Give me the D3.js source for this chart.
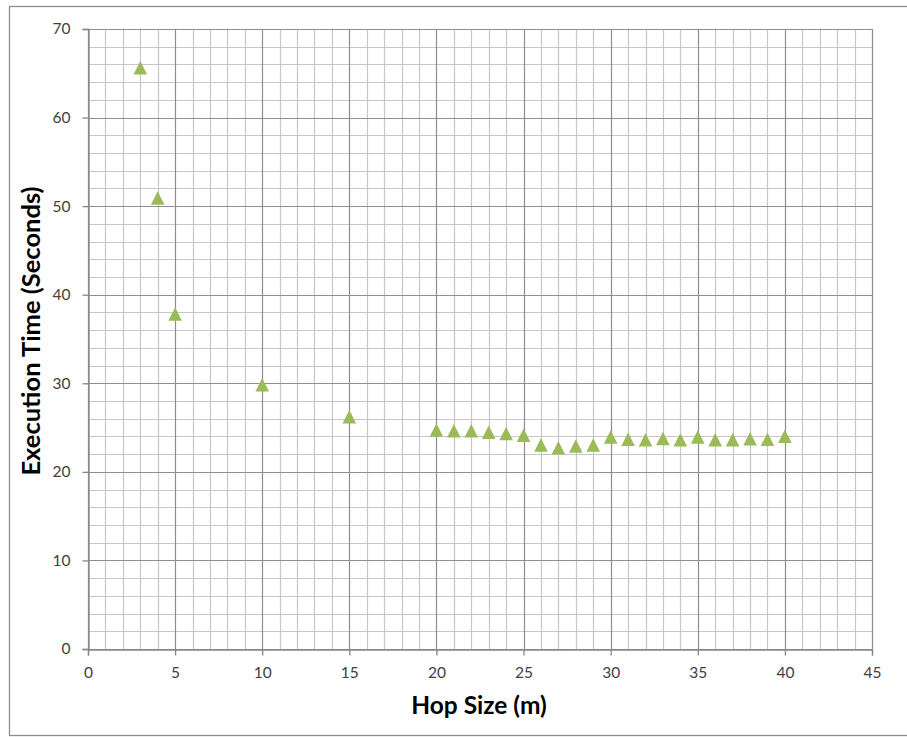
<!DOCTYPE html>
<html lang="en">
<head>
  <meta charset="UTF-8">
  <title>Execution Time vs Hop Size</title>
  <style>
    body {
      margin: 0;
      padding: 0;
      background: #fff;
    }
    .tick-label {
      font-family: Lato, "Open Sans", sans-serif;
      font-size: 15.5px;
      fill: #404040;
    }
    .axis-title {
      font-family: Lato, "Open Sans", sans-serif;
      font-weight: bold;
      fill: #000;
    }
  </style>
</head>
<body>
  <script src="https://d3js.org/d3.v7.min.js"></script>
  <script>
    // Hop size (m) and measured execution time (s)
    const hopSizes = [3, 4, 5, 10, 15, 20, 21, 22, 23, 24, 25, 26, 27, 28, 29, 30,
                      31, 32, 33, 34, 35, 36, 37, 38, 39, 40];
    const execTimes = [65.6, 50.9, 37.8, 29.8, 26.2, 24.7, 24.6, 24.6, 24.45, 24.3, 24.1, 23.0, 22.7, 22.9, 23.0, 23.9,
                       23.65, 23.6, 23.75, 23.6, 23.9, 23.6, 23.6, 23.7, 23.65, 24.0];
    const xTicks = [0, 5, 10, 15, 20, 25, 30, 35, 40, 45];
    const yTicks = [0, 10, 20, 30, 40, 50, 60, 70];

    const width = 907;
    const height = 737;
    const margin = { left: 88, right: 35, top: 29, bottom: 88 };

    const svg = d3.select('body')
      .append('svg')
      .attr('width', width)
      .attr('height', height);

    // outer chart frame
    svg.append('rect')
      .attr('x', 9.5)
      .attr('y', 6.5)
      .attr('width', width + 10)
      .attr('height', height - 8)
      .attr('fill', 'none')
      .attr('stroke', '#8c8c8c')
      .attr('stroke-width', 1.3);

    const x = d3.scaleLinear()
      .domain([0, 45])
      .range([margin.left, width - margin.right]);

    const y = d3.scaleLinear()
      .domain([0, 70])
      .range([height - margin.bottom, margin.top]);

    const grid = svg.append('g');

    // minor grid
    grid.selectAll('.vminor')
      .data(d3.range(1, 45).filter(v => v % 5 !== 0))
      .enter().append('line')
        .attr('x1', d => Math.round(x(d)) + 0.5)
        .attr('x2', d => Math.round(x(d)) + 0.5)
        .attr('y1', y(0))
        .attr('y2', y(70))
        .attr('stroke', '#c6c6c6')
        .attr('stroke-width', 1.2);

    grid.selectAll('.hminor')
      .data(d3.range(2, 70, 2).filter(v => v % 10 !== 0))
      .enter().append('line')
        .attr('y1', d => Math.round(y(d)) + 0.5)
        .attr('y2', d => Math.round(y(d)) + 0.5)
        .attr('x1', x(0))
        .attr('x2', x(45))
        .attr('stroke', '#c6c6c6')
        .attr('stroke-width', 1.2);

    // major grid
    grid.selectAll('.vmajor')
      .data(xTicks)
      .enter().append('line')
        .attr('x1', d => Math.round(x(d)) + 0.5)
        .attr('x2', d => Math.round(x(d)) + 0.5)
        .attr('y1', y(0))
        .attr('y2', y(70))
        .attr('stroke', '#8e8e8e')
        .attr('stroke-width', 1.2);

    grid.selectAll('.hmajor')
      .data(yTicks)
      .enter().append('line')
        .attr('y1', d => Math.round(y(d)) + 0.5)
        .attr('y2', d => Math.round(y(d)) + 0.5)
        .attr('x1', x(0))
        .attr('x2', x(45))
        .attr('stroke', '#8e8e8e')
        .attr('stroke-width', 1.2);

    // axes (ticks + labels)
    const xAxis = d3.axisBottom(x).tickValues(xTicks).tickSize(6).tickPadding(11);
    const yAxis = d3.axisLeft(y).tickValues(yTicks).tickSize(6).tickPadding(12);

    const gx = svg.append('g')
      .attr('transform', `translate(0,${Math.round(y(0)) + 0.5})`)
      .call(xAxis);
    const gy = svg.append('g')
      .attr('transform', `translate(${Math.round(x(0)) + 0.5},0)`)
      .call(yAxis);

    [gx, gy].forEach(g => {
      g.select('.domain').attr('stroke', '#868686').attr('stroke-width', 1.3);
      g.selectAll('.tick line').attr('stroke', '#868686').attr('stroke-width', 1.3);
      g.selectAll('.tick text').attr('class', 'tick-label').attr('font-family', null).attr('font-size', null).attr('fill', null);
    });

    // triangle markers, bbox centred on the data point
    const tri = 'M0,-7L6.8,6.5L-6.8,6.5Z';
    svg.append('g')
      .selectAll('path')
      .data(hopSizes.map((h, i) => [h, execTimes[i]]))
      .enter().append('path')
        .attr('d', tri)
        .attr('transform', d => `translate(${x(d[0])},${y(d[1])})`)
        .attr('fill', '#9bbb59');

    // axis titles
    svg.append('text')
      .attr('class', 'axis-title')
      .attr('x', 479)
      .attr('y', 714)
      .attr('font-size', '24.5px')
      .attr('text-anchor', 'middle')
      .text('Hop Size (m)');

    svg.append('text')
      .attr('class', 'axis-title')
      .attr('transform', 'translate(40,331) rotate(-90)')
      .attr('font-size', '25.5px')
      .attr('text-anchor', 'middle')
      .text('Execution Time (Seconds)');
  </script>
</body>
</html>
